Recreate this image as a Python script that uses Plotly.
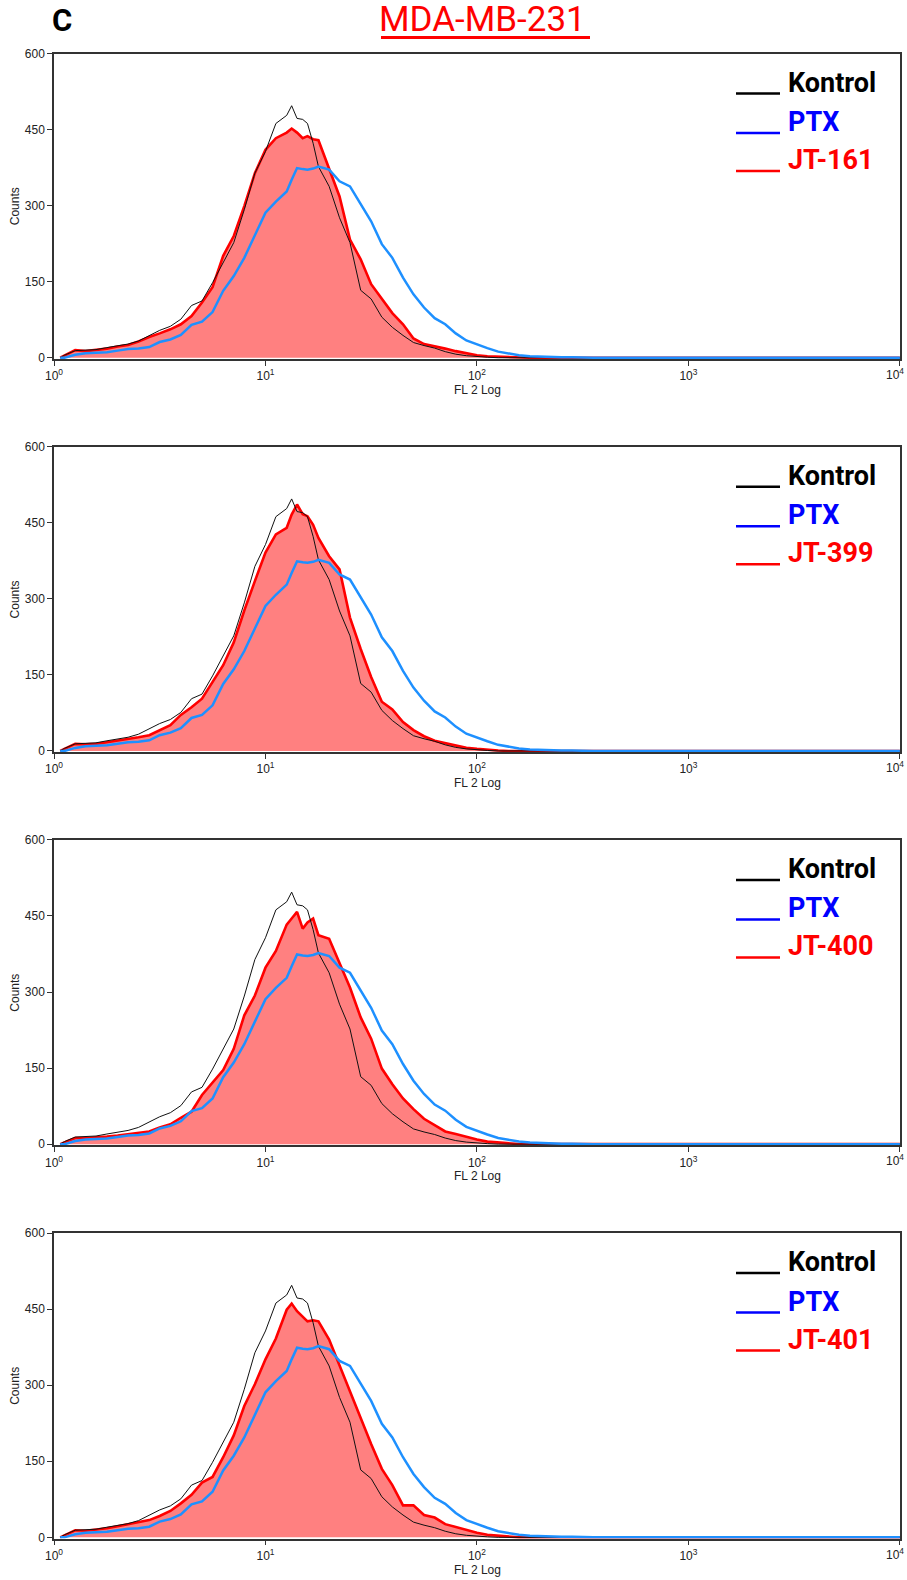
import plotly.graph_objects as go

# ---------------- data ----------------
fl2 = [1.07, 1.12, 1.26, 1.41, 1.58, 1.78, 2.00, 2.24, 2.51, 2.82,
       3.16, 3.55, 3.98, 4.47, 5.01, 5.62, 6.31, 7.08, 7.94, 8.91,
       10.0, 11.2, 12.6, 13.3, 14.1, 15.0, 15.8, 16.8, 17.8, 20.0,
       22.4, 25.1, 28.2, 31.6, 35.5, 39.8, 44.7, 50.1, 56.2, 63.1,
       70.8, 79.4, 89.1, 100, 112, 126, 141, 158, 178, 200,
       224, 251, 282, 316, 355, 398, 10000]

kontrol = [0, 5, 14, 15, 16, 20, 24, 27, 33, 44,
           54, 62, 76, 103, 112, 148, 188, 227, 292, 364,
           407, 462, 478, 497, 472, 470, 462, 423, 377, 338,
           276, 227, 133, 116, 80, 60, 44, 30, 24, 19,
           12, 7, 4, 2, 1, 0, 0, 0, 0, 0,
           0, 0, 0, 0, 0, 0, 0]

ptx = [0, 0, 6, 9, 10, 11, 14, 17, 18, 21,
       31, 36, 45, 65, 71, 90, 132, 161, 197, 240,
       286, 308, 328, 351, 374, 372, 371, 373, 377, 371,
       348, 338, 302, 269, 224, 197, 158, 125, 99, 78,
       66, 48, 34, 26, 19, 12, 8, 5, 3, 2,
       2, 1, 1, 0, 0, 0, 0]

jt161 = [0, 4, 15, 13, 15, 18, 22, 25, 32, 41,
         48, 56, 66, 82, 109, 139, 201, 240, 299, 364,
         410, 433, 444, 452, 444, 433, 437, 431, 429, 371,
         318, 233, 194, 145, 115, 88, 66, 38, 27, 23,
         18, 13, 9, 5, 3, 2, 1, 0, 0, 0,
         0, 0, 0, 0, 0, 0, 0]

jt399 = [0, 4, 14, 13, 14, 17, 20, 23, 27, 31,
         41, 51, 71, 86, 103, 136, 169, 214, 277, 335,
         391, 427, 440, 466, 486, 467, 463, 446, 420, 384,
         358, 263, 201, 146, 97, 82, 57, 41, 29, 20,
         15, 10, 6, 4, 2, 1, 0, 0, 0, 0,
         0, 0, 0, 0, 0, 0, 0]

jt400 = [0, 3, 12, 12, 13, 15, 17, 20, 22, 25,
         33, 39, 52, 64, 97, 122, 146, 188, 254, 293,
         348, 381, 433, 445, 458, 425, 437, 445, 412, 405,
         358, 309, 250, 208, 149, 118, 90, 69, 50, 37,
         25, 20, 14, 9, 5, 3, 1, 0, 0, 0,
         0, 0, 0, 0, 0, 0, 0]

jt401 = [0, 4, 14, 13, 15, 18, 22, 26, 30, 34,
         42, 52, 67, 84, 108, 119, 158, 201, 259, 302,
         351, 392, 449, 461, 446, 436, 426, 428, 426, 390,
         339, 286, 233, 184, 135, 103, 63, 63, 44, 39,
         26, 20, 14, 9, 5, 3, 1, 0, 0, 0,
         0, 0, 0, 0, 0, 0, 0]

treatment_labels = ["JT-161", "JT-399", "JT-400", "JT-401"]
treatment_series = [jt161, jt399, jt400, jt401]
legend_names = ["Kontrol", "PTX"]

x_tickvals = [1, 10, 100, 1000, 10000]
x_ticktext = ["10<sup>0</sup>", "10<sup>1</sup>", "10<sup>2</sup>", "10<sup>3</sup>", "10<sup>4</sup>"]
y_tickvals = [0, 150, 300, 450, 600]

panel_title = "MDA-MB-231"
panel_letter = "C"

# ---------------- layout geometry ----------------
W, H = 907, 1580
PX_L, PX_R = 54, 900
panel_tops = [53.5, 446.7, 839.9, 1233.1]
PANEL_H = 305.5

RED, RED_FILL, BLACK, BLUE = "#FF0000", "#FF8080", "#111111", "#1E90FF"
AX_COL = "#333333"
TICK_FONT = dict(family="Liberation Sans, Arial, sans-serif", size=12, color="#222222")


def px(x):
    return x / W


def py(y):
    return 1 - y / H


fig = go.Figure()
axes = {}
annotations = []
shapes = []

# the last decade label sits against the page edge, so it is drawn as an
# annotation pulled slightly to the left (as in the reference)
axis_ticktext = x_ticktext[:-1] + [""]

for i, (label, red) in enumerate(zip(treatment_labels, treatment_series)):
    n = "" if i == 0 else str(i + 1)
    xa, ya = "x" + n, "y" + n
    top = panel_tops[i]
    bot = top + PANEL_H

    fig.add_trace(go.Scatter(x=fl2, y=red, mode="lines", name=label,
                             line=dict(color=RED, width=2.6),
                             fill="tozeroy", fillcolor=RED_FILL,
                             xaxis=xa, yaxis=ya, showlegend=False, hoverinfo="skip"))
    fig.add_trace(go.Scatter(x=fl2, y=kontrol, mode="lines", name=legend_names[0],
                             line=dict(color=BLACK, width=1),
                             xaxis=xa, yaxis=ya, showlegend=False, hoverinfo="skip"))
    fig.add_trace(go.Scatter(x=fl2, y=ptx, mode="lines", name=legend_names[1],
                             line=dict(color=BLUE, width=2.5),
                             xaxis=xa, yaxis=ya, showlegend=False, hoverinfo="skip"))

    axes["xaxis" + n] = dict(
        type="log", range=[0, 4.0005], domain=[px(PX_L), px(PX_R)], anchor=ya,
        tickmode="array", tickvals=x_tickvals, ticktext=axis_ticktext,
        ticks="outside", ticklen=5, tickwidth=1, tickcolor=AX_COL,
        showline=True, linecolor=AX_COL, linewidth=1.5, mirror=True,
        showgrid=False, zeroline=False, tickfont=TICK_FONT, automargin=False)
    axes["yaxis" + n] = dict(
        range=[-2.5, 600], domain=[py(bot), py(top)], anchor=xa,
        tickmode="array", tickvals=y_tickvals,
        ticks="outside", ticklen=5, tickwidth=1, tickcolor=AX_COL,
        showline=True, linecolor=AX_COL, linewidth=1.5, mirror=True,
        showgrid=False, zeroline=False, tickfont=TICK_FONT, automargin=False)

    annotations.append(dict(text=x_ticktext[-1], x=px(905), y=py(bot + 6),
                            xref="paper", yref="paper", showarrow=False,
                            font=TICK_FONT, xanchor="right", yanchor="top",
                            borderpad=0))

    # axis titles
    annotations.append(dict(text="Counts", x=px(15), y=py((top + bot) / 2),
                            xref="paper", yref="paper", textangle=-90,
                            showarrow=False, font=TICK_FONT,
                            xanchor="center", yanchor="middle"))
    annotations.append(dict(text="FL 2 Log", x=px(477), y=py(bot + 31),
                            xref="paper", yref="paper", showarrow=False,
                            font=TICK_FONT, xanchor="center", yanchor="middle"))

    # legend (text + underscore lines)
    for j, (txt, col) in enumerate([(legend_names[0], "#000000"),
                                    (legend_names[1], "#0000FF"),
                                    (label, RED)]):
        yc = top + [29.0, 68.5, 106.5][j]
        yl = top + [40.0, 79.5, 117.5][j]
        annotations.append(dict(text="<b>" + txt + "</b>", x=px(786), y=py(yc),
                                xref="paper", yref="paper", showarrow=False,
                                font=dict(family="Roboto, sans-serif", size=27, color=col),
                                xanchor="left", yanchor="middle"))
        shapes.append(dict(type="line", xref="paper", yref="paper",
                           x0=px(736), x1=px(780), y0=py(yl), y1=py(yl),
                           line=dict(color=col, width=2.5)))

# header
annotations.append(dict(text="<b>" + panel_letter + "</b>", x=px(50), y=py(21),
                        xref="paper", yref="paper", showarrow=False,
                        font=dict(family="Roboto, sans-serif", size=31, color="#000000"),
                        xanchor="left", yanchor="middle"))
annotations.append(dict(text=panel_title, x=px(483), y=py(20),
                        xref="paper", yref="paper", showarrow=False,
                        font=dict(family="Roboto, sans-serif", size=35, color=RED),
                        xanchor="center", yanchor="middle"))
shapes.append(dict(type="line", xref="paper", yref="paper",
                   x0=px(381), x1=px(590), y0=py(37.5), y1=py(37.5),
                   line=dict(color=RED, width=3)))

fig.update_layout(
    width=W, height=H, template="none",
    margin=dict(l=0, r=0, t=0, b=0, pad=0),
    paper_bgcolor="white", plot_bgcolor="white",
    annotations=annotations, shapes=shapes, showlegend=False,
    **axes)

fig.write_html("out.html")
